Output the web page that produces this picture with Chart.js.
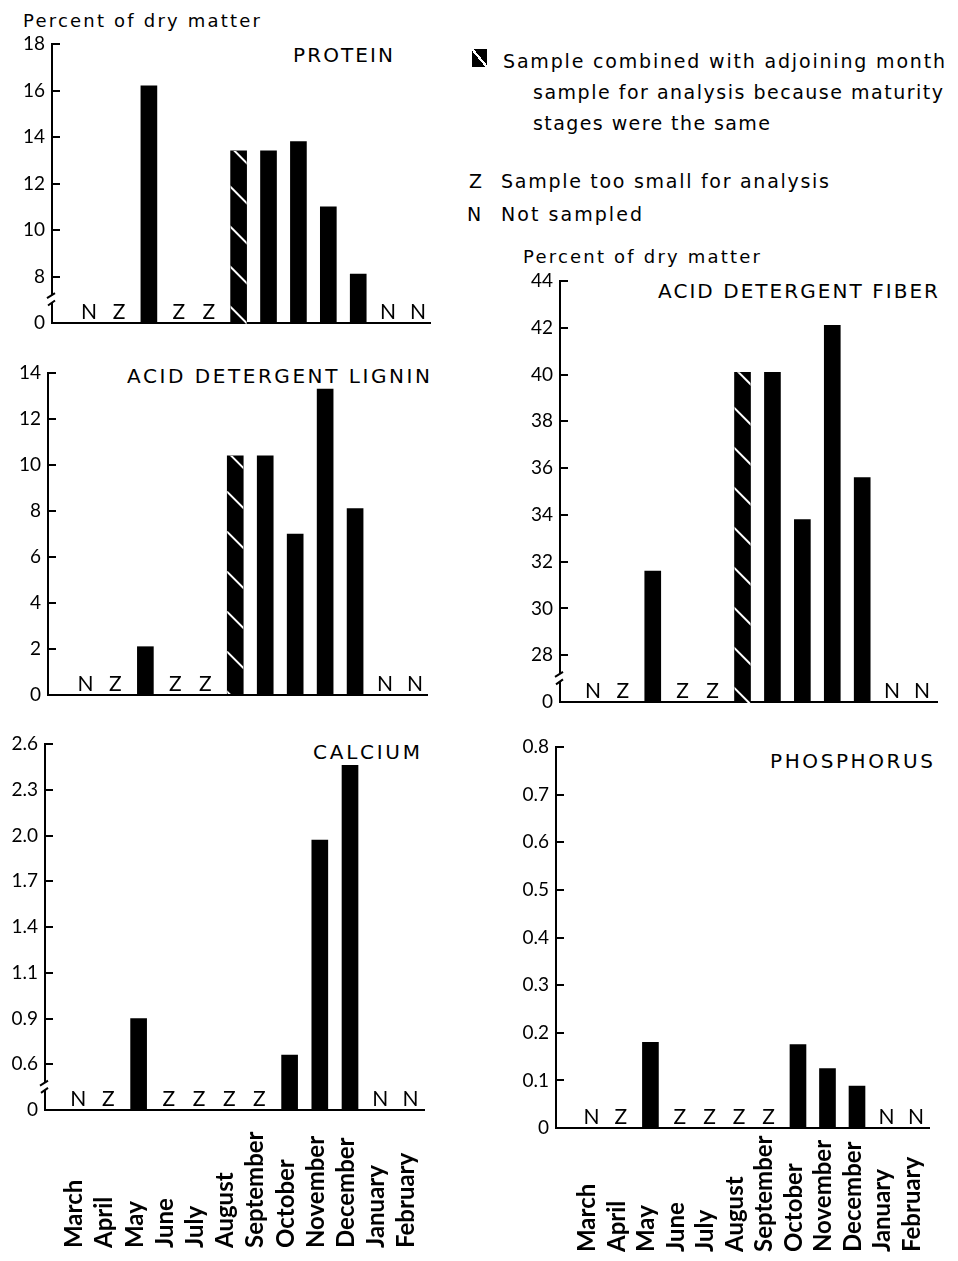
<!DOCTYPE html>
<html>
<head>
<meta charset="utf-8">
<title>Forage composition by month</title>
<script src="https://cdn.jsdelivr.net/npm/chart.js@4.4.0/dist/chart.umd.min.js"></script>
<style>
  html, body { margin: 0; padding: 0; background: #fff; }
  #page { position: relative; width: 958px; height: 1261px; overflow: hidden; font-family: "DejaVu Sans", sans-serif; color: #000; }
  #page canvas { position: absolute; }
  .txt { position: absolute; white-space: nowrap; line-height: 1; }
  .icon {
    position: absolute; left: 472px; top: 49px; width: 15px; height: 18px;
    background: linear-gradient(to top right, #000 calc(50% - 1.2px), #fff calc(50% - 1.2px), #fff calc(50% + 1.2px), #000 calc(50% + 1.2px));
  }
</style>
</head>
<body>
<div id="page">
  <div class="txt" data-x="23" data-b="27" data-fs="18" data-w="237">Percent of dry matter</div>
  <div class="txt" data-x="293" data-b="62" data-fs="20" data-w="100">PROTEIN</div>

  <div class="icon"></div>
  <div class="txt" data-x="503" data-b="68" data-fs="19" data-w="442">Sample combined with adjoining month</div>
  <div class="txt" data-x="533" data-b="99" data-fs="19" data-w="410">sample for analysis because maturity</div>
  <div class="txt" data-x="533" data-b="130" data-fs="19" data-w="237">stages were the same</div>
  <div class="txt" data-x="469" data-b="188" data-fs="19">Z</div>
  <div class="txt" data-x="501" data-b="188" data-fs="19" data-w="328">Sample too small for analysis</div>
  <div class="txt" data-x="467" data-b="221" data-fs="19">N</div>
  <div class="txt" data-x="501" data-b="221" data-fs="19" data-w="141">Not sampled</div>

  <div class="txt" data-x="523" data-b="263" data-fs="18" data-w="237">Percent of dry matter</div>
  <div class="txt" data-x="658" data-b="298" data-fs="20" data-w="280">ACID DETERGENT FIBER</div>
  <div class="txt" data-x="127" data-b="383" data-fs="20" data-w="303">ACID DETERGENT LIGNIN</div>
  <div class="txt" data-x="313" data-b="759" data-fs="20" data-w="107">CALCIUM</div>
  <div class="txt" data-x="770" data-b="768" data-fs="20" data-w="163">PHOSPHORUS</div>
</div>

<script>
// Monthly forage samples - percent of dry matter

const months = ['March', 'April', 'May', 'June', 'July', 'August', 'September',
                'October', 'November', 'December', 'January', 'February'];

// null = no bar; flag letter is printed on the axis instead
const proteinValues = [null, null, 16.2, null, null, 13.4, 13.4, 13.8, 11.0, 8.1, null, null];
const proteinFlags  = ['N', 'Z', '', 'Z', 'Z', '', '', '', '', '', 'N', 'N'];
const proteinTicks  = [6, 8, 10, 12, 14, 16, 18];          // axis is broken below 8
const proteinTickLabels = ['0', '8', '10', '12', '14', '16', '18'];

const ligninValues = [null, null, 2.1, null, null, 10.4, 10.4, 7.0, 13.3, 8.1, null, null];
const ligninFlags  = ['N', 'Z', '', 'Z', 'Z', '', '', '', '', '', 'N', 'N'];
const ligninTicks  = [0, 2, 4, 6, 8, 10, 12, 14];
const ligninTickLabels = ['0', '2', '4', '6', '8', '10', '12', '14'];

const fiberValues = [null, null, 31.6, null, null, 40.1, 40.1, 33.8, 42.1, 35.6, null, null];
const fiberFlags  = ['N', 'Z', '', 'Z', 'Z', '', '', '', '', '', 'N', 'N'];
const fiberTicks  = [26, 28, 30, 32, 34, 36, 38, 40, 42, 44]; // broken below 28
const fiberTickLabels = ['0', '28', '30', '32', '34', '36', '38', '40', '42', '44'];

// the printed calcium axis is evenly spaced but labelled 0.6, 0.9, 1.1 ...
// so values are kept in drawn-scale units (0.3 per division)
const calciumValues = [null, null, 0.8, null, null, null, null, 0.56, 1.97, 2.46, null, null];
const calciumFlags  = ['N', 'Z', '', 'Z', 'Z', 'Z', 'Z', '', '', '', 'N', 'N'];
const calciumTicks  = [0.2, 0.5, 0.8, 1.1, 1.4, 1.7, 2.0, 2.3, 2.6];
const calciumTickLabels = ['0', '0.6', '0.9', '1.1', '1.4', '1.7', '2.0', '2.3', '2.6'];

const phosphorusValues = [null, null, 0.18, null, null, null, null, 0.175, 0.125, 0.088, null, null];
const phosphorusFlags  = ['N', 'Z', '', 'Z', 'Z', 'Z', 'Z', '', '', '', 'N', 'N'];
const phosphorusTicks  = [0, 0.1, 0.2, 0.3, 0.4, 0.5, 0.6, 0.7, 0.8];
const phosphorusTickLabels = ['0', '0.1', '0.2', '0.3', '0.4', '0.5', '0.6', '0.7', '0.8'];

// August sample was combined with September (hatched bar)
const combinedMonths = [5];

const AXIS_W = 44;
const PAD_V = 30;
const page = document.getElementById('page');

Chart.defaults.font.family = 'Lato';
Chart.defaults.color = '#000';

// texts: place by baseline and stretch letter spacing to the printed width
document.querySelectorAll('.txt').forEach(el => {
    const fs = +el.dataset.fs;
    el.style.fontSize = fs + 'px';
    el.style.left = el.dataset.x + 'px';
    el.style.top = (el.dataset.b - 0.846 * fs) + 'px';
    if (el.dataset.w) {
        const natural = el.getBoundingClientRect().width;
        const n = el.textContent.length - 1;
        el.style.letterSpacing = ((el.dataset.w - natural) / n) + 'px';
    }
});

// N/Z flags, hatching and the axis break
const panelMarks = {
    id: 'panelMarks',
    afterDatasetsDraw(chart, args, opts) {
        const ctx = chart.ctx;
        const meta = chart.getDatasetMeta(0);
        (opts.hatched || []).forEach(i => {
            const bar = meta.data[i];
            if (!bar) return;
            const { x, y, base, width } = bar.getProps(['x', 'y', 'base', 'width'], true);
            const l = x - width / 2, r = x + width / 2;
            ctx.save();
            ctx.beginPath();
            ctx.rect(l, y, width, base - y);
            ctx.clip();
            ctx.strokeStyle = '#fff';
            ctx.lineWidth = 2;
            for (let s = y - 5; s < base; s += 40) {
                ctx.beginPath();
                ctx.moveTo(l - 1, s);
                ctx.lineTo(r + 1, s + 18);
                ctx.stroke();
            }
            ctx.restore();
        });
    },
    afterDraw(chart, args, opts) {
        const ctx = chart.ctx;
        const xs = chart.scales.x, ys = chart.scales.y;
        ctx.save();
        ctx.fillStyle = '#000';
        ctx.font = '21px Lato';
        ctx.textAlign = 'center';
        ctx.textBaseline = 'alphabetic';
        opts.flags.forEach((f, i) => {
            if (f) ctx.fillText(f, xs.getPixelForValue(i), ys.bottom - 4);
        });
        if (opts.broken) {
            const ax = chart.chartArea.left - 1;
            const yb = ys.bottom;
            const h = yb - ys.getPixelForValue(ys.ticks[1].value);
            const g1 = yb - 0.6 * h, g2 = yb - 0.44 * h;
            ctx.fillStyle = '#fff';
            ctx.fillRect(ax - 3, g1, 6, g2 - g1);
            ctx.strokeStyle = '#000';
            ctx.lineWidth = 2;
            ctx.beginPath();
            ctx.moveTo(ax - 4, g1 + 3); ctx.lineTo(ax + 4, g1 - 2);
            ctx.moveTo(ax - 3, g2 + 3); ctx.lineTo(ax + 4, g2 - 2);
            ctx.stroke();
        }
        ctx.restore();
    }
};

function addCanvas(left, top, width, height) {
    const c = document.createElement('canvas');
    c.width = width;
    c.height = height;
    c.style.left = left + 'px';
    c.style.top = top + 'px';
    c.style.width = width + 'px';
    c.style.height = height + 'px';
    page.appendChild(c);
    return c;
}

function makePanel(p) {
    const left = p.axisX - AXIS_W;
    const top = p.top - PAD_V;
    const width = p.right - left + 10;
    const height = p.base - top + PAD_V;
    const canvas = addCanvas(left, top, width, height);

    return new Chart(canvas, {
        type: 'bar',
        data: {
            datasets: [{
                data: months.map((m, i) => ({ x: i, y: p.values[i] })),
                backgroundColor: '#000',
                barThickness: 16
            }]
        },
        options: {
            responsive: false,
            animation: false,
            devicePixelRatio: 1,
            layout: { padding: { top: PAD_V, right: 10, bottom: PAD_V, left: 0 } },
            plugins: {
                legend: { display: false },
                tooltip: { enabled: false },
                panelMarks: { flags: p.flags, hatched: p.hatched || [], broken: p.broken }
            },
            scales: {
                x: {
                    type: 'linear',
                    min: p.xMin,
                    max: p.xMax,
                    offset: false,
                    ticks: { display: false },
                    grid: { drawOnChartArea: false, drawTicks: false },
                    border: { color: '#000', width: 2 },
                    afterFit: s => { s.height = 0; }
                },
                y: {
                    min: p.ticks[0],
                    max: p.ticks[p.ticks.length - 1],
                    beginAtZero: false,
                    afterBuildTicks: s => { s.ticks = p.ticks.map(v => ({ value: v })); },
                    ticks: {
                        callback: (v, i) => p.tickLabels[i],
                        font: { size: 19 },
                        color: '#000',
                        padding: 15
                    },
                    grid: { drawOnChartArea: false, tickLength: -8, color: '#000', lineWidth: 2 },
                    border: { color: '#000', width: 2 },
                    afterFit: s => { s.width = AXIS_W; }
                }
            }
        },
        plugins: [panelMarks]
    });
}

// month names under the bottom panels, bottom aligned like the print
function makeMonthAxis(p) {
    const left = p.axisX - AXIS_W;
    const top = p.base + 4;
    const axisH = p.labelBottom - top;
    const width = p.right - left + 10;
    const canvas = addCanvas(left, top, width, axisH + 4);

    return new Chart(canvas, {
        type: 'bar',
        data: { datasets: [] },
        options: {
            responsive: false,
            animation: false,
            devicePixelRatio: 1,
            layout: { padding: { top: 0, right: 10, bottom: 0, left: AXIS_W } },
            plugins: { legend: { display: false }, tooltip: { enabled: false } },
            scales: {
                x: {
                    type: 'linear',
                    position: 'top',
                    min: p.xMin,
                    max: p.xMax,
                    offset: false,
                    afterBuildTicks: s => { s.ticks = months.map((m, i) => ({ value: i })); },
                    ticks: {
                        callback: (v, i) => months[i],
                        autoSkip: false,
                        minRotation: 90,
                        maxRotation: 90,
                        padding: 0,
                        labelOffset: 25,
                        font: { size: 24, weight: 'bold' },
                        color: '#000'
                    },
                    grid: { drawOnChartArea: false, drawTicks: false },
                    border: { display: false },
                    afterFit: s => { s.height = axisH; }
                },
                y: { display: false }
            }
        }
    });
}

const proteinPanel = { values: proteinValues, flags: proteinFlags, ticks: proteinTicks, tickLabels: proteinTickLabels,
    hatched: combinedMonths, broken: true, axisX: 52, top: 44, base: 323, right: 430, xMin: -1.24, xMax: 11.4 };
const ligninPanel = { values: ligninValues, flags: ligninFlags, ticks: ligninTicks, tickLabels: ligninTickLabels,
    hatched: combinedMonths, broken: false, axisX: 48, top: 373, base: 695, right: 427, xMin: -1.25, xMax: 11.4 };
const fiberPanel = { values: fiberValues, flags: fiberFlags, ticks: fiberTicks, tickLabels: fiberTickLabels,
    hatched: combinedMonths, broken: true, axisX: 560, top: 281, base: 702, right: 937, xMin: -1.1, xMax: 11.5 };
const calciumPanel = { values: calciumValues, flags: calciumFlags, ticks: calciumTicks, tickLabels: calciumTickLabels,
    broken: true, axisX: 45, top: 744, base: 1110, right: 424, xMin: -1.1, xMax: 11.45, labelBottom: 1248 };
const phosphorusPanel = { values: phosphorusValues, flags: phosphorusFlags, ticks: phosphorusTicks, tickLabels: phosphorusTickLabels,
    broken: false, axisX: 556, top: 747, base: 1128, right: 929, xMin: -1.2, xMax: 11.44, labelBottom: 1252 };

[proteinPanel, ligninPanel, fiberPanel, calciumPanel, phosphorusPanel].forEach(makePanel);
makeMonthAxis(calciumPanel);
makeMonthAxis(phosphorusPanel);
</script>
</body>
</html>
